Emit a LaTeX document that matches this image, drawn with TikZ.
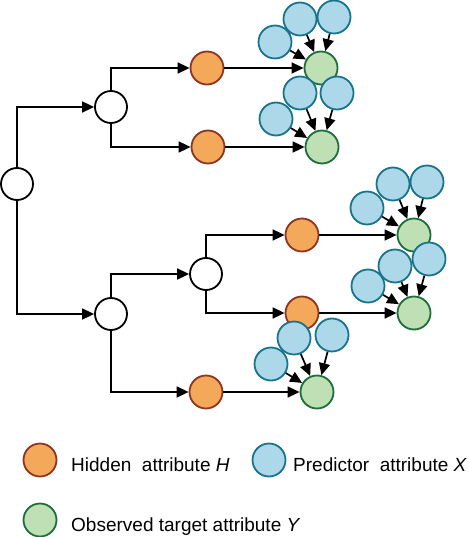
\documentclass[tikz,border=0pt]{standalone}
\usepackage{fontspec}
\setmainfont{Liberation Sans}
\usetikzlibrary{arrows.meta}

\definecolor{hidfill}{HTML}{F4A95A}
\definecolor{hiddraw}{HTML}{8E3420}
\definecolor{predfill}{HTML}{ADD8E9}
\definecolor{preddraw}{HTML}{17748A}
\definecolor{obsfill}{HTML}{BEE0B4}
\definecolor{obsdraw}{HTML}{1E6E3C}

\begin{document}
\begin{tikzpicture}[x=1pt,y=-1pt,
    splitnode/.style={circle,draw,line width=1.8pt,fill=white,minimum size=32pt,inner sep=0pt},
    hid/.style={circle,draw=hiddraw,fill=hidfill,line width=1.8pt,minimum size=33pt,inner sep=0pt},
    pred/.style={circle,draw=preddraw,fill=predfill,line width=1.8pt,minimum size=33pt,inner sep=0pt},
    obs/.style={circle,draw=obsdraw,fill=obsfill,line width=1.8pt,minimum size=33pt,inner sep=0pt},
    arr/.style={line width=1.7pt,-{Triangle[length=12pt,width=11pt]}},
    legtext/.style={anchor=base west,inner sep=0pt,font=\fontsize{19}{22}\selectfont}]
  \useasboundingbox (0,0) rectangle (468,537);

  % splitting nodes
  \node[splitnode](root) at (17,184) {};
  \node[splitnode](nA) at (111,107) {};
  \node[splitnode](nB) at (111,314) {};
  \node[splitnode](nC) at (206,274) {};

  % hidden attributes
  \node[hid](h1) at (207,68) {};
  \node[hid](h2) at (208,147) {};
  \node[hid](h3) at (302,235) {};
  \node[hid](h4) at (302,313) {};
  \node[hid](h5) at (206,392) {};

  % observed targets
  \node[obs](y1) at (321,68) {};
  \node[obs](y2) at (322,147) {};
  \node[obs](y3) at (414,235) {};
  \node[obs](y4) at (414,313) {};
  \node[obs](y5) at (317,392) {};

  % predictors
  \node[pred](x11) at (300,19) {};
  \node[pred](x12) at (334,17) {};
  \node[pred](x13) at (275,42) {};
  \node[pred](x21) at (300,93) {};
  \node[pred](x22) at (337,93) {};
  \node[pred](x23) at (276,119) {};
  \node[pred](x31) at (393,184) {};
  \node[pred](x32) at (427,182) {};
  \node[pred](x33) at (367,208) {};
  \node[pred](x41) at (395,266) {};
  \node[pred](x42) at (429,259) {};
  \node[pred](x43) at (368,286) {};
  \node[pred](x51) at (294,338) {};
  \node[pred](x52) at (332,335) {};
  \node[pred](x53) at (271,364) {};

  % tree edges
  \draw[arr] (root) |- (nA);
  \draw[arr] (root) |- (nB);
  \draw[arr] (nA) |- (h1);
  \draw[arr] (nA) |- (h2);
  \draw[arr] (nB) |- (nC);
  \draw[arr] (nB) |- (h5);
  \draw[arr] (nC) |- (h3);
  \draw[arr] (nC) |- (h4);

  \foreach \i in {1,...,5}{
    \draw[arr] (h\i) -- (y\i);
    \foreach \j in {1,2,3}
      \draw[arr] (x\i\j) -- (y\i);
  }

  % legend
  \node[hid](leghid) at (40,460) {};
  \node[legtext](lh) at (71,471) {Hidden\ \ attribute \textit{H}};
  \node[pred](legpred) at (269,460) {};
  \node[legtext](lp) at (293,471) {Predictor\ \ attribute \textit{X}};
  \node[obs](legobs) at (40,520) {};
  \node[legtext](lo) at (71,531) {Observed target attribute \textit{Y}};
\end{tikzpicture}
\end{document}
